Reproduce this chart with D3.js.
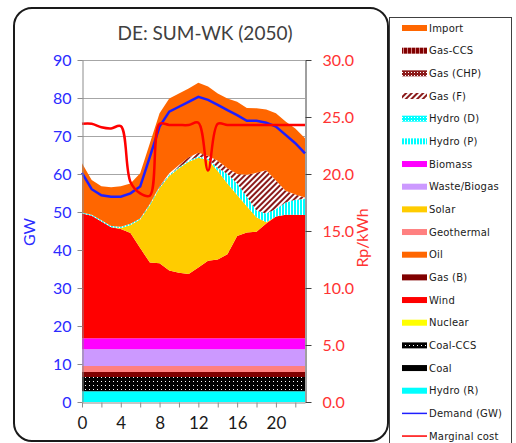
<!DOCTYPE html>
<html>
<head>
<meta charset="utf-8">
<script src="https://cdn.jsdelivr.net/npm/d3@7/dist/d3.min.js"></script>
<style>
body { margin: 0; background: #fff; }
svg { display: block; }
text { font-family: Lato, "Liberation Sans", sans-serif; }
</style>
</head>
<body>
<svg width="516" height="443"></svg>
<script>
// hours of the day (category axis)
var hours = [0,1,2,3,4,5,6,7,8,9,10,11,12,13,14,15,16,17,18,19,20,21,22,23];

// generation, GW (stack bottom -> top)
var hydroR     = [2.8,2.8,2.8,2.8,2.8,2.8,2.8,2.8,2.8,2.8,2.8,2.8,2.8,2.8,2.8,2.8,2.8,2.8,2.8,2.8,2.8,2.8,2.8,2.8];
var coal       = [0,0,0,0,0,0,0,0,0,0,0,0,0,0,0,0,0,0,0,0,0,0,0,0];
var coalCCS    = [3.8,3.8,3.8,3.8,3.8,3.8,3.8,3.8,3.8,3.8,3.8,3.8,3.8,3.8,3.8,3.8,3.8,3.8,3.8,3.8,3.8,3.8,3.8,3.8];
var nuclear    = [0,0,0,0,0,0,0,0,0,0,0,0,0,0,0,0,0,0,0,0,0,0,0,0];
var gasB       = [1.3,1.3,1.3,1.3,1.3,1.3,1.3,1.3,1.3,1.3,1.3,1.3,1.3,1.3,1.3,1.3,1.3,1.3,1.3,1.3,1.3,1.3,1.3,1.3];
var geothermal = [1.6,1.6,1.6,1.6,1.6,1.6,1.6,1.6,1.6,1.6,1.6,1.6,1.6,1.6,1.6,1.6,1.6,1.6,1.6,1.6,1.6,1.6,1.6,1.6];
var waste      = [4.4,4.4,4.4,4.4,4.4,4.4,4.4,4.4,4.4,4.4,4.4,4.4,4.4,4.4,4.4,4.4,4.4,4.4,4.4,4.4,4.4,4.4,4.4,4.4];
var biomass    = [2.9,2.9,2.9,2.9,2.9,2.9,2.9,2.9,2.9,2.9,2.9,2.9,2.9,2.9,2.9,2.9,2.9,2.9,2.9,2.9,2.9,2.9,2.9,2.9];
var wind       = [32.8,32.2,30.7,29.2,28.7,27.7,23.7,19.9,19.7,17.8,17.2,16.9,18.6,20.4,20.7,22.1,26.9,27.8,28.0,30.2,32.0,32.5,32.5,32.4];
var oil        = [0,0,0,0,0,0,0,0,0,0,0,0,0,0,0,0,0,0,0,0,0,0,0,0];
var solar      = [0,0,0,0,0.3,2.1,7.5,15.1,19.8,24.9,27.5,29.5,28.9,26.5,23.3,18.6,10.8,6.9,3.8,0.3,0,0,0,0];
var hydroP     = [0.3,0.3,0.3,0.3,0.3,0.3,0.3,0.3,0.3,0.3,0.3,0.3,0.3,0.3,0.8,2.5,3.0,2.5,1.8,2.3,2.0,3.2,3.9,4.2];
var hydroD     = [0,0,0,0,0,0,0,0,0,0,0,0,0,0,0,0,0,0,0,0,0,0,0,0];
var gasF       = [0,0,0,0,0,0,0,0,0.2,0.4,0.6,0.9,1.0,0.8,1.9,1.5,2.5,5.8,9.9,11.4,7.5,3.1,1.4,0.4];
var gasCHP     = [0,0,0,0,0,0,0,0,0,0,0,0,0,0,0,0,0,0,0,0,0,0,0,0];
var gasCCS     = [0,0,0,0,0,0,0,0,0,0,0,0,0,0,0,0,0,0,0,0,0,0,0,0];
var importGW   = [12.9,9.1,9.0,10.2,10.7,10.6,11.9,16.0,19.2,19.7,18.8,18.1,18.4,18.2,17.7,18.4,19.0,17.6,17.0,16.0,17.7,18.2,17.4,15.6];

// lines
var demand       = [60.3,56.0,54.4,54.0,54.0,54.9,56.7,64.5,72.5,76.4,77.7,79.0,80.3,79.5,78.2,76.8,75.5,74.0,74.0,73.5,72.5,70.3,68.1,65.4];
var marginalCost = [24.4,24.4,24.1,24.0,24.2,19.3,18.3,18.1,24.4,24.3,24.3,24.3,24.5,20.3,24.4,24.3,24.3,24.3,24.3,24.3,24.3,24.3,24.3,24.3];

// axis ticks
var gwTicks = [0,10,20,30,40,50,60,70,80,90];
var costTicks = [0,5,10,15,20,25,30];
var hourTicks = [0,2,4,6,8,10,12,14,16,18,20,22];
var hourLabels = ["0","","4","","8","","12","","16","","20",""];

var stackNames = ["Hydro (R)","Coal","Coal-CCS","Nuclear","Gas (B)","Geothermal","Waste/Biogas","Biomass",
    "Wind","Oil","Solar","Hydro (P)","Hydro (D)","Gas (F)","Gas (CHP)","Gas-CCS","Import"];
var stackValues = [hydroR,coal,coalCCS,nuclear,gasB,geothermal,waste,biomass,
    wind,oil,solar,hydroP,hydroD,gasF,gasCHP,gasCCS,importGW];
var legendNames = ["Import","Gas-CCS","Gas (CHP)","Gas (F)","Hydro (D)","Hydro (P)","Biomass","Waste/Biogas",
    "Solar","Geothermal","Oil","Gas (B)","Wind","Nuclear","Coal-CCS","Coal","Hydro (R)","Demand (GW)","Marginal cost"];

var fills = {
    "Import": "#ff6600", "Gas-CCS": "url(#pGasCCS)", "Gas (CHP)": "url(#pGasCHP)", "Gas (F)": "url(#pGasF)",
    "Hydro (D)": "url(#pHydroD)", "Hydro (P)": "url(#pHydroP)", "Biomass": "#ff00ff", "Waste/Biogas": "#cc99ff",
    "Solar": "#ffcc00", "Geothermal": "#ff8080", "Oil": "#ff6600", "Gas (B)": "#800000", "Wind": "#ff0000",
    "Nuclear": "#ffff00", "Coal-CCS": "url(#pCoalCCS)", "Coal": "#000000", "Hydro (R)": "#00ffff"
};

//размеры
var xLeft = 82, xRight = 305, yTop = 60, yBottom = 402;

var svg = d3.select("svg");

// patterns
var defs = svg.append("defs");
var p = defs.append("pattern").attr("id","pGasF").attr("width",4).attr("height",4)
    .attr("patternUnits","userSpaceOnUse").attr("patternTransform","rotate(45)");
p.append("rect").attr("width",4).attr("height",4).attr("fill","#fff");
p.append("rect").attr("width",2).attr("height",4).attr("fill","#8b1a1a");

p = defs.append("pattern").attr("id","pGasCHP").attr("width",3).attr("height",3).attr("patternUnits","userSpaceOnUse");
p.append("rect").attr("width",3).attr("height",3).attr("fill","#8b1a1a");
p.append("rect").attr("width",1).attr("height",1).attr("fill","#fff");

p = defs.append("pattern").attr("id","pGasCCS").attr("width",4).attr("height",4).attr("patternUnits","userSpaceOnUse");
p.append("rect").attr("width",4).attr("height",4).attr("fill","#800000");
p.append("rect").attr("x",3).attr("width",1).attr("height",4).attr("fill","#d08080");

p = defs.append("pattern").attr("id","pHydroP").attr("width",3).attr("height",3).attr("patternUnits","userSpaceOnUse");
p.append("rect").attr("width",3).attr("height",3).attr("fill","#fff");
p.append("rect").attr("width",2).attr("height",3).attr("fill","#00ffff");

p = defs.append("pattern").attr("id","pHydroD").attr("width",3).attr("height",3).attr("patternUnits","userSpaceOnUse");
p.append("rect").attr("width",3).attr("height",3).attr("fill","#00ffff");
p.append("rect").attr("width",1).attr("height",1).attr("fill","#fff");

p = defs.append("pattern").attr("id","pCoalCCS").attr("width",4).attr("height",4).attr("patternUnits","userSpaceOnUse");
p.append("rect").attr("width",4).attr("height",4).attr("fill","#000");
p.append("rect").attr("x",1).attr("y",1).attr("width",1).attr("height",1).attr("fill","#fff");

// chart border
svg.append("rect").attr("x",14).attr("y",8).attr("width",374).attr("height",433)
    .attr("rx",18).attr("fill","#fff").attr("stroke","#1a1a1a").attr("stroke-width",2);

// legend box
svg.append("rect").attr("x",389.5).attr("y",17.5).attr("width",122).attr("height",440)
    .attr("fill","#fff").attr("stroke","#404040").attr("stroke-width",1);

var x = d3.scaleLinear().domain([0,23]).range([xLeft,xRight]);
var y = d3.scaleLinear().domain([0,90]).range([yBottom,yTop]);
var y2 = d3.scaleLinear().domain([0,30]).range([yBottom,yTop]);

// gridlines
svg.append("g").selectAll("line").data(gwTicks.slice(1)).enter().append("line")
    .attr("x1",xLeft).attr("x2",xRight)
    .attr("y1",function(d){return y(d)+0.5;}).attr("y2",function(d){return y(d)+0.5;})
    .attr("stroke","#a6a6a6").attr("stroke-width",1);

// stacked areas
var rows = hours.map(function(h,i) {
    var r = {hour: h};
    stackNames.forEach(function(n,k){ r[n] = stackValues[k][i]; });
    return r;
});
var series = d3.stack().keys(stackNames)(rows);
var area = d3.area()
    .x(function(d){return x(d.data.hour);})
    .y0(function(d){return y(d[0]);})
    .y1(function(d){return y(d[1]);});

svg.append("g").selectAll("path").data(series).enter().append("path")
    .attr("d", area)
    .attr("fill", function(d){return fills[d.key];})
    .attr("stroke", "none");

// demand
var demandLine = d3.line()
    .x(function(d,i){return x(hours[i]);})
    .y(function(d){return y(d);});
svg.append("path").attr("d", demandLine(demand))
    .attr("fill","none").attr("stroke","#1f1fff").attr("stroke-width",2.5);

// marginal cost (smoothed)
var costLine = d3.line()
    .x(function(d,i){return x(hours[i]);})
    .y(function(d){return y2(d);})
    .curve(d3.curveCatmullRom.alpha(0.5));
svg.append("path").attr("d", costLine(marginalCost))
    .attr("fill","none").attr("stroke","#ff0000").attr("stroke-width",2.5);

// axes
var gLeft = svg.append("g").attr("transform","translate("+(xLeft+0.5)+",0)")
    .call(d3.axisLeft(y).tickValues(gwTicks).tickSize(5).tickSizeOuter(0).tickPadding(6));
gLeft.select(".domain").attr("stroke","#8c8c8c");
gLeft.selectAll(".tick line").attr("stroke","#8c8c8c");
gLeft.selectAll("text").attr("fill","#2b2bff").style("font-size","16px").style("font-family","Lato");

var gRight = svg.append("g").attr("transform","translate("+(xRight+0.5)+",0)")
    .call(d3.axisRight(y2).tickValues(costTicks).tickSize(6).tickSizeOuter(0).tickPadding(11)
        .tickFormat(d3.format(".1f")));
gRight.select(".domain").attr("stroke","#404040");
gRight.selectAll(".tick line").attr("stroke","#404040");
gRight.selectAll("text").attr("fill","#ff3333").style("font-size","16px").style("font-family","Lato");

var gBottom = svg.append("g").attr("transform","translate(0,"+(yBottom+0.5)+")")
    .call(d3.axisBottom(x).tickValues(hourTicks).tickSize(5).tickSizeOuter(0).tickPadding(9)
        .tickFormat(function(d,i){return hourLabels[i];}));
gBottom.select(".domain").attr("stroke","#8c8c8c");
gBottom.selectAll(".tick line").attr("stroke","#8c8c8c");
gBottom.selectAll("text").attr("fill","#1a1a1a").style("font-size","17px").style("font-family","Lato");

// titles
svg.append("text").attr("x",205).attr("y",40).attr("text-anchor","middle")
    .attr("fill","#404040").style("font-size","19px").text("DE: SUM-WK (2050)");
svg.append("text").attr("transform","translate(35,232) rotate(-90)").attr("text-anchor","middle")
    .attr("fill","#2b2bff").style("font-size","16px").text("GW");
svg.append("text").attr("transform","translate(368,238) rotate(-90)").attr("text-anchor","middle")
    .attr("fill","#ff3333").style("font-size","16px").text("Rp/kWh");

// legend
var legendY0 = 28, legendStep = 22.67;
legendNames.forEach(function(name,i) {
    var ly = legendY0 + i*legendStep;
    if (name == "Demand (GW)" || name == "Marginal cost") {
        svg.append("line").attr("x1",402).attr("x2",427).attr("y1",ly).attr("y2",ly)
            .attr("stroke", name == "Demand (GW)" ? "#1f1fff" : "#ff0000").attr("stroke-width",1.5);
    } else {
        svg.append("rect").attr("x",402).attr("y",ly-3).attr("width",25).attr("height",6)
            .attr("fill", fills[name]);
    }
    svg.append("text").attr("x",429).attr("y",ly+3.5)
        .attr("fill","#1a1a1a").style("font-size","10px").style("letter-spacing","0.2px")
        .style("font-family","'DejaVu Sans'")
        .text(name);
});
</script>
</body>
</html>
